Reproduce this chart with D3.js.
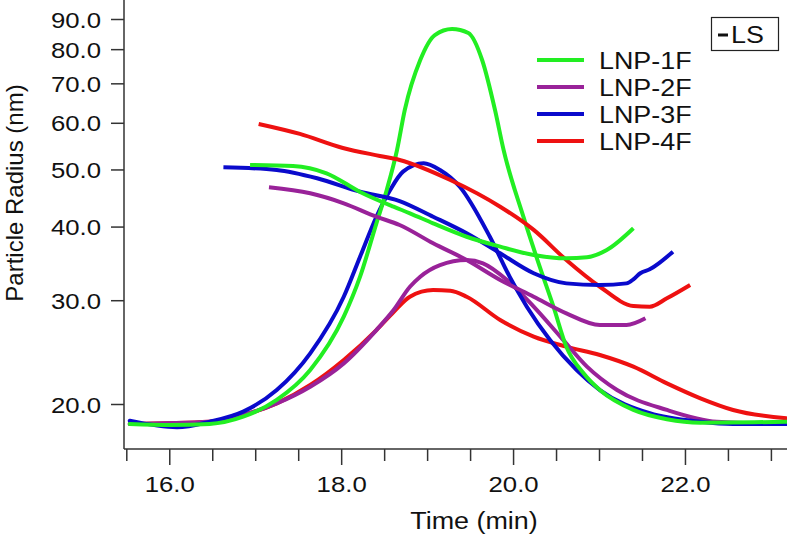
<!DOCTYPE html>
<html><head><meta charset="utf-8">
<script src="https://cdn.jsdelivr.net/npm/d3@7"></script>
<style>
html,body{margin:0;padding:0;background:#fff;}
svg{display:block;}
text{font-family:"Liberation Sans",Arial,sans-serif;fill:#111;}
</style></head>
<body>
<svg id="chart" width="787" height="536"></svg>
<script>
// ---- data ----
const seriesNames = ["LNP-1F","LNP-2F","LNP-3F","LNP-4F"];
const seriesColors = ["#22ee22","#992299","#0a0acc","#ee1111"];

// LS (peak) traces: [time, value]
const ls1F = [[15.54,18.50],[16.01,18.43],[16.47,18.50],[16.86,19.03],[17.25,20.32],[17.64,22.84],[18.03,28.13],[18.22,32.89],[18.41,40.51],[18.53,46.15],[18.65,53.95],[18.74,63.07],[18.92,76.68],[19.09,84.54],[19.29,86.54],[19.48,85.20],[19.64,76.68],[19.79,63.07],[19.89,53.95],[20.12,41.57],[20.31,34.20],[20.47,29.25],[20.62,25.02],[20.82,22.55],[21.01,21.12],[21.40,19.54],[21.79,18.84],[22.18,18.59],[23.18,18.66]];
const ls2F = [[15.54,18.50],[16.47,18.66],[16.86,19.16],[17.25,20.05],[17.64,21.40],[18.03,23.44],[18.41,26.70],[18.61,28.87],[18.80,31.62],[18.92,32.89],[19.15,34.42],[19.46,35.10],[19.65,34.65],[19.93,32.47],[20.24,29.25],[20.55,26.02],[20.86,23.14],[21.21,21.12],[21.79,19.54],[22.37,18.66],[23.18,18.50]];
const ls3F = [[15.54,18.74],[16.09,18.26],[16.47,18.66],[16.86,19.41],[17.25,21.12],[17.64,24.38],[18.03,30.41],[18.22,35.56],[18.41,41.57],[18.57,46.15],[18.72,49.57],[18.96,51.22],[19.15,49.89],[19.38,46.74],[19.73,38.44],[19.96,32.89],[20.16,29.25],[20.43,25.68],[20.74,22.84],[21.01,21.12],[21.59,19.29],[22.18,18.66],[22.56,18.50],[23.18,18.50]];
const ls4F = [[15.54,18.50],[16.47,18.66],[16.86,19.16],[17.25,20.05],[17.64,21.54],[18.03,23.75],[18.41,26.70],[18.61,28.65],[18.80,30.41],[19.07,31.21],[19.27,31.13],[19.46,30.41],[19.85,27.77],[20.24,26.02],[20.62,25.02],[21.01,24.22],[21.40,23.14],[21.79,21.68],[22.18,20.45],[22.56,19.54],[23.18,18.91]];

// Particle radius traces: [time, radius nm]
const rad1F = [[16.94,50.89],[17.44,50.69],[17.83,49.26],[18.22,45.80],[18.61,43.23],[18.80,42.13],[19.07,40.51],[19.46,38.44],[19.85,36.98],[20.24,35.80],[20.62,35.34],[20.86,35.48],[21.09,36.50],[21.40,39.74]];
const rad2F = [[17.16,46.64],[17.64,45.55],[18.03,43.81],[18.41,41.57],[18.68,40.25],[19.07,37.47],[19.46,35.10],[19.85,32.47],[20.24,30.41],[20.62,28.50],[21.01,27.23],[21.32,27.23],[21.54,27.95]];
const rad3F = [[16.63,50.43],[17.25,49.90],[17.72,48.31],[18.22,45.84],[18.68,44.20],[19.07,41.57],[19.46,38.96],[19.85,36.03],[20.24,33.33],[20.62,32.04],[21.01,31.83],[21.32,32.04],[21.40,32.55],[21.48,33.33],[21.59,33.85],[21.86,36.26]];
const rad4F = [[17.04,59.73],[17.52,57.44],[18.02,54.37],[18.45,52.71],[18.68,51.89],[19.27,47.99],[19.85,43.23],[20.24,39.48],[20.62,35.10],[21.01,31.62],[21.40,29.33],[21.59,29.25],[21.79,30.22],[22.06,31.83]];

const yTicks = [20,30,40,50,60,70,80,90];
const xMajorTicks = [16,18,20,22];
const xMinorTicks = [15.5,16.5,17,17.5,18.5,19,19.5,20.5,21,21.5,22.5,23];

// ---- layout ----
const svg = d3.select("#chart");
const SX = 1.17; // horizontal stretch of the glyphs
const axisX = 124, axisY = 449;
const x = d3.scaleLinear().domain([15.5, 23.2]).range([126.3, 788.1]);
const y = d3.scaleLog().domain([20, 90]).range([404, 19]);
const axisColor = "#333";

// axes lines
svg.append("line").attr("x1",axisX).attr("x2",axisX).attr("y1",0).attr("y2",axisY)
  .attr("stroke",axisColor).attr("stroke-width",1.5);
svg.append("line").attr("x1",axisX).attr("x2",787).attr("y1",axisY).attr("y2",axisY)
  .attr("stroke",axisColor).attr("stroke-width",1.5);

// y axis
const yAxis = svg.append("g").attr("transform",`translate(${axisX},0)`)
  .call(d3.axisLeft(y).tickValues(yTicks).tickSize(13).tickFormat(d3.format(".1f")));
yAxis.select(".domain").remove();
yAxis.selectAll(".tick line").attr("stroke",axisColor).attr("stroke-width",1.5);
yAxis.selectAll(".tick text").attr("x",null).attr("dy",null).attr("fill","#111")
  .attr("text-anchor","end").style("font-size","22px")
  .attr("transform",`translate(-23,8) scale(${SX},1)`);

// x axis major
const xAxis = svg.append("g").attr("transform",`translate(0,${axisY})`)
  .call(d3.axisBottom(x).tickValues(xMajorTicks).tickSize(16).tickFormat(d3.format(".1f")));
xAxis.select(".domain").remove();
xAxis.selectAll(".tick line").attr("stroke",axisColor).attr("stroke-width",1.5);
xAxis.selectAll(".tick text").attr("y",null).attr("dy",null).attr("fill","#111")
  .attr("text-anchor","middle").style("font-size","22px")
  .attr("transform",`translate(0,43) scale(${SX},1)`);
// x axis minor
const xMinor = svg.append("g").attr("transform",`translate(0,${axisY})`)
  .call(d3.axisBottom(x).tickValues(xMinorTicks).tickSize(12).tickFormat(""));
xMinor.select(".domain").remove();
xMinor.selectAll(".tick line").attr("stroke",axisColor).attr("stroke-width",1.5);

// axis titles
svg.append("text").attr("text-anchor","middle").style("font-size","23px")
  .attr("transform",`translate(474,529) scale(${SX},1)`).text("Time (min)");
svg.append("text").attr("text-anchor","middle").style("font-size","24px")
  .attr("transform",`translate(23,193) rotate(-90)`).text("Particle Radius (nm)");

// curves
const line = d3.line().x(d=>x(d[0])).y(d=>y(d[1])).curve(d3.curveMonotoneX);
const lsData = [ls1F, ls2F, ls3F, ls4F];
const radData = [rad1F, rad2F, rad3F, rad4F];
const g = svg.append("g");
const order = [3,1,2,0]; // drawing order
order.forEach(i=>{
  g.append("path").datum(lsData[i]).attr("d",line).attr("fill","none")
    .attr("stroke",seriesColors[i]).attr("stroke-width",4).attr("stroke-linejoin","round").attr("stroke-linecap","round");
});
order.forEach(i=>{
  g.append("path").datum(radData[i]).attr("d",line).attr("fill","none")
    .attr("stroke",seriesColors[i]).attr("stroke-width",4).attr("stroke-linejoin","round").attr("stroke-linecap","butt");
});

// legend
const legY = d3.scaleLinear().domain([0,1]).range([60,87]);
seriesNames.forEach((name,i)=>{
  const yy = legY(i);
  svg.append("line").attr("x1",537).attr("x2",584).attr("y1",yy).attr("y2",yy)
    .attr("stroke",seriesColors[i]).attr("stroke-width",4);
  svg.append("text").style("font-size","24px")
    .attr("transform",`translate(599,${yy+8.5}) scale(1.12,1)`).text(name);
});

// LS box
svg.append("rect").attr("x",711.5).attr("y",17.5).attr("width",67).attr("height",33)
  .attr("fill","#fff").attr("stroke","#222").attr("stroke-width",1.2);
svg.append("line").attr("x1",718).attr("x2",728).attr("y1",35).attr("y2",35)
  .attr("stroke","#111").attr("stroke-width",3);
svg.append("text").style("font-size","23px")
  .attr("transform",`translate(731,43) scale(${SX},1)`).text("LS");
</script>
</body></html>
